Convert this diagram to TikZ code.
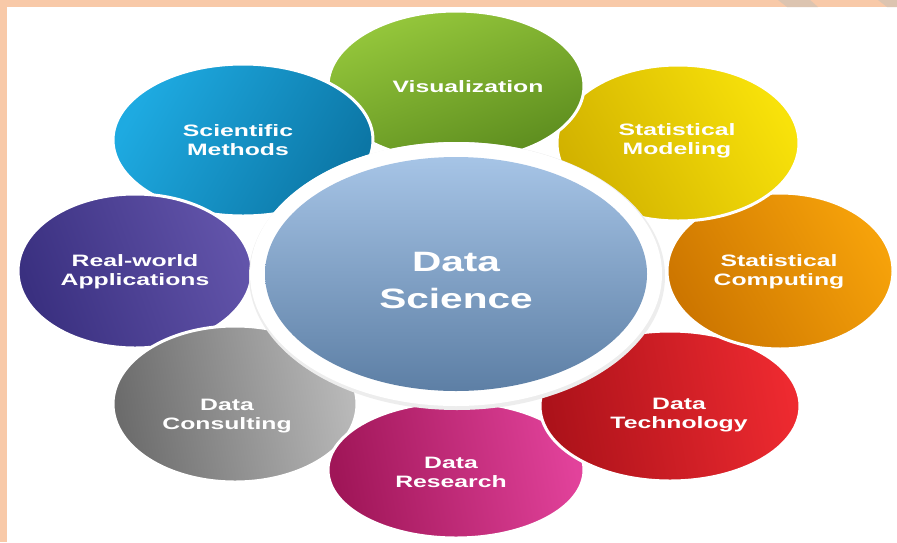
\documentclass[tikz,border=0pt]{standalone}
\usepackage{fontspec}
\newfontfamily\labfont{Liberation Sans}[FakeStretch=1.5]
\newfontfamily\bigfont{Liberation Sans}[FakeStretch=1.45]
\definecolor{peach}{HTML}{F8C9A8}
\definecolor{stripe}{HTML}{DCC4B0}
\tikzset{
  petal/.style={draw=white, line width=3pt},
  lbl/.style={text=white, align=center, font=\labfont\bfseries\fontsize{16.5}{19}\selectfont, inner sep=0pt},
  biglbl/.style={text=white, align=center, font=\bigfont\bfseries\fontsize{28}{37}\selectfont, inner sep=0pt},
}
\begin{document}
\begin{tikzpicture}[x=1pt,y=-1pt]
\useasboundingbox (0,0) rectangle (897,542);
\fill[white] (0,0) rectangle (897,542);
% border
\fill[peach] (0,0) rectangle (897,7);
\fill[peach] (0,0) rectangle (7,542);
\fill[stripe] (778,0) -- (810,0) -- (818,7) -- (787,7) -- cycle;
\fill[stripe] (878,0) -- (897,0) -- (897,7) -- (887,7) -- cycle;

% petals (order so that each overlaps its clockwise neighbour)
\path[petal, top color={rgb,255:red,150;green,200;blue,60}, bottom color={rgb,255:red,92;green,140;blue,30}, shading angle=20]
  (456,86) ellipse [x radius=128, y radius=75];
\path[petal, top color={rgb,255:red,30;green,170;blue,225}, bottom color={rgb,255:red,12;green,118;blue,165}, shading angle=60]
  (243,140) ellipse [x radius=130, y radius=76];
\path[petal, top color={rgb,255:red,98;green,84;blue,170}, bottom color={rgb,255:red,58;green,48;blue,128}, shading angle=-70]
  (135,271) ellipse [x radius=117, y radius=77];
\path[petal, top color={rgb,255:red,185;green,185;blue,185}, bottom color={rgb,255:red,108;green,108;blue,108}, shading angle=-80]
  (235,404) ellipse [x radius=122, y radius=78];
\path[petal, top color={rgb,255:red,226;green,66;blue,155}, bottom color={rgb,255:red,160;green,22;blue,88}, shading angle=-80]
  (456,470) ellipse [x radius=128, y radius=68];
\path[petal, top color={rgb,255:red,238;green,42;blue,48}, bottom color={rgb,255:red,172;green,18;blue,26}, shading angle=-80]
  (670,406) ellipse [x radius=130, y radius=75];
\path[petal, top color={rgb,255:red,246;green,162;blue,10}, bottom color={rgb,255:red,205;green,118;blue,0}, shading angle=-60]
  (780,271) ellipse [x radius=113, y radius=78];
\path[petal, top color={rgb,255:red,248;green,226;blue,10}, bottom color={rgb,255:red,210;green,178;blue,0}, shading angle=-60]
  (678,143) ellipse [x radius=121, y radius=78];
% green again, on top of yellow only
\begin{scope}
\clip (462,0) rectangle (897,542);
\path[petal, top color={rgb,255:red,150;green,200;blue,60}, bottom color={rgb,255:red,92;green,140;blue,30}, shading angle=20]
  (456,86) ellipse [x radius=128, y radius=75];
\end{scope}

% centre
\fill[black!7] (457,276) ellipse [x radius=208, y radius=134];
\fill[white] (456,274) ellipse [x radius=206, y radius=132];
\path[top color={rgb,255:red,166;green,196;blue,230}, bottom color={rgb,255:red,93;green,127;blue,165}]
  (456,274) ellipse [x radius=191, y radius=117];

% labels
\node[lbl] (vis) at (468,87) {Visualization};
\node[lbl] (stm) at (677,141) {Statistical\\Modeling};
\node[lbl] (stc) at (779,272) {Statistical\\Computing};
\node[lbl] (dtec) at (679,415) {Data\\Technology};
\node[lbl] (dres) at (451,472) {Data\\Research};
\node[lbl] (dcon) at (227,416) {Data\\Consulting};
\node[lbl] (rwa) at (135,272) {Real-world\\Applications};
\node[lbl] (scm) at (238,140) {Scientific\\Methods};
\node[biglbl] (ds) at (456,280) {Data\\Science};
\end{tikzpicture}
\end{document}
